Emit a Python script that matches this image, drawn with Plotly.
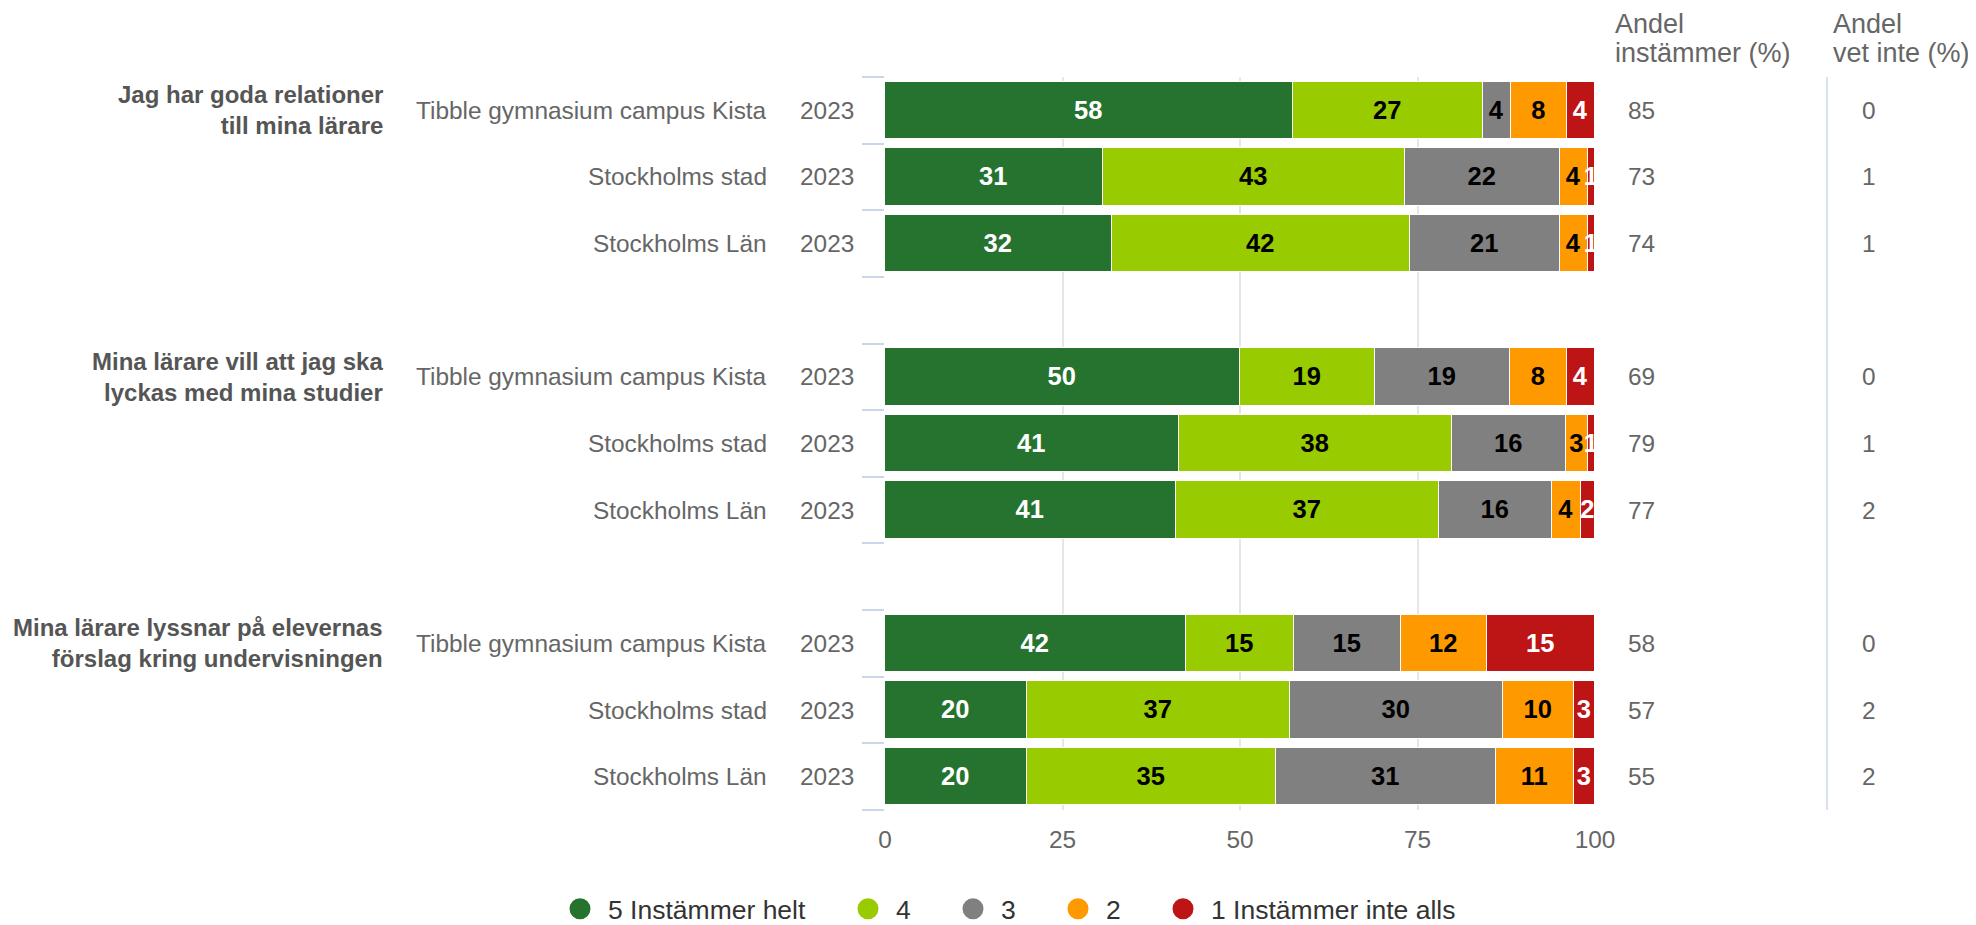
import plotly.graph_objects as go
import numpy as np

# ---------------- data ----------------
questions = [
    "Jag har goda relationer<br>till mina lärare",
    "Mina lärare vill att jag ska<br>lyckas med mina studier",
    "Mina lärare lyssnar på elevernas<br>förslag kring undervisningen",
]
units = ["Tibble gymnasium campus Kista", "Stockholms stad", "Stockholms Län"]
year = "2023"

series_names = ["5 Instämmer helt", "4", "3", "2", "1 Instämmer inte alls"]
v5 = [58, 31, 32, 50, 41, 41, 42, 20, 20]
v4 = [27, 43, 42, 19, 38, 37, 15, 37, 35]
v3 = [4, 22, 21, 19, 16, 16, 15, 30, 31]
v2 = [8, 4, 4, 8, 3, 4, 12, 10, 11]
v1 = [4, 1, 1, 4, 1, 2, 15, 3, 3]

andel_instammer = [85, 73, 74, 69, 79, 77, 58, 57, 55]
andel_vet_inte = [0, 1, 1, 0, 1, 2, 0, 2, 2]

header_instammer = ["Andel", "instämmer (%)"]
header_vet_inte = ["Andel", "vet inte (%)"]
x_ticks = [0, 25, 50, 75, 100]

# ---------------- styling ----------------
colors = ["#267330", "#99cc00", "#808080", "#ff9900", "#bd1515"]
label_colors = ["#ffffff", "#000000", "#000000", "#000000", "#ffffff"]
FONT = "Liberation Sans, Arial, sans-serif"

W, H = 1976, 925
L, R, T, B = 877, 389, 69, 123
plot_w = W - L - R
plot_h = H - T - B

# legend symbol centres (px) for each entry
legend_centres = [580, 868, 973, 1078, 1183]
legend_cy = 901

# row positions: 3 groups of 3 rows with a blank row in between
rows = [g * 4 + r for g in range(len(questions)) for r in range(len(units))]

fig = go.Figure()
all_vals = [v5, v4, v3, v2, v1]
for name, vals, col, lc in zip(series_names, all_vals, colors, label_colors):
    fig.add_trace(go.Bar(
        x=vals, y=rows, orientation="h", name=name,
        marker=dict(color=col, line=dict(color="#ffffff", width=1.5)),
        width=0.86,
        text=vals, texttemplate="%{text}",
        textposition="inside", insidetextanchor="middle", textangle=0,
        constraintext="none",
        textfont=dict(family=FONT, size=25.5, color=lc, weight="bold"),
        showlegend=False, hoverinfo="skip",
    ))

# legend entries with circle symbols, one legend box per entry
legend_layouts = {}
for k, (name, col, cx) in enumerate(zip(series_names, colors, legend_centres)):
    lname = "legend" if k == 0 else f"legend{k + 1}"
    fig.add_trace(go.Scatter(
        x=[None], y=[None], mode="markers", name=name,
        marker=dict(symbol="circle", size=16, color=col, line=dict(color=col, width=5)),
        showlegend=True, hoverinfo="skip", legend=lname,
    ))
    legend_layouts[lname] = dict(
        orientation="h", xref="paper", yref="paper",
        x=(cx - 36 - L) / plot_w, xanchor="left",
        y=-(B - (H - legend_cy)) / plot_h, yanchor="middle",
        font=dict(family=FONT, size=26.5, color="#333333"),
        itemwidth=46, itemclick=False, itemdoubleclick=False,
        bgcolor="rgba(0,0,0,0)",
    )

annotations = []
# question labels (on first row of each group)
for g, q in enumerate(questions):
    annotations.append(dict(
        x=0, xref="x", xshift=377 - L, xanchor="right",
        y=rows[g * 3], yref="y", yanchor="middle",
        text=f"<b>{q}</b>", align="right", showarrow=False,
        font=dict(family=FONT, size=24, color="#555555"),
    ))
x_right = W - R
for i, rp in enumerate(rows):
    annotations.append(dict(
        x=0, xref="x", xshift=761 - L, xanchor="right",
        y=rp, yref="y", yanchor="middle",
        text=units[i % 3], showarrow=False,
        font=dict(family=FONT, size=24.4, color="#666666"),
    ))
    annotations.append(dict(
        x=0, xref="x", xshift=848 - L, xanchor="right",
        y=rp, yref="y", yanchor="middle",
        text=year, showarrow=False,
        font=dict(family=FONT, size=24.4, color="#666666"),
    ))
    annotations.append(dict(
        x=100, xref="x", xshift=1618 - x_right, xanchor="left",
        y=rp, yref="y", yanchor="middle",
        text=str(andel_instammer[i]), showarrow=False,
        font=dict(family=FONT, size=24.4, color="#666666"),
    ))
    annotations.append(dict(
        x=100, xref="x", xshift=1852 - x_right, xanchor="left",
        y=rp, yref="y", yanchor="middle",
        text=str(andel_vet_inte[i]), showarrow=False,
        font=dict(family=FONT, size=24.4, color="#666666"),
    ))

for hx, lines in [(1606, header_instammer), (1824, header_vet_inte)]:
    for k, (line, cy) in enumerate(zip(lines, [16, 45])):
        annotations.append(dict(
            x=100, xref="x", xshift=hx - x_right, xanchor="left",
            y=1, yref="paper", yanchor="middle", yshift=T - cy,
            text=line, align="left", showarrow=False, borderpad=0,
            font=dict(family=FONT, size=27, color="#666666"),
        ))

sep_x = (1819 - L) / plot_w
shapes = [dict(type="line", xref="paper", yref="paper", x0=sep_x, x1=sep_x,
               y0=0, y1=1, line=dict(color="#ccd6eb", width=1.5))]

fig.update_layout(
    width=W, height=H,
    margin=dict(l=L, r=R, t=T, b=B, autoexpand=False),
    paper_bgcolor="#ffffff", plot_bgcolor="#ffffff",
    barmode="stack", barnorm="percent", bargap=0,
    uniformtext=dict(mode="show", minsize=24),
    font=dict(family=FONT, size=24, color="#666666"),
    xaxis=dict(range=[0, 100], tickvals=x_ticks, ticktext=[str(t) for t in x_ticks],
               showgrid=True, gridcolor="#e6e6e6", gridwidth=1.5, zeroline=False,
               showline=False, ticks="", ticklabelstandoff=13,
               tickfont=dict(family=FONT, size=24.4, color="#666666"), fixedrange=True),
    yaxis=dict(range=[10.5, -0.5], tickvals=list(np.arange(-0.5, 11, 1.0)),
               showticklabels=False, ticks="outside", ticklen=22, tickwidth=2,
               tickcolor="#ccd6eb", showgrid=False, zeroline=False, showline=False,
               fixedrange=True),
    annotations=annotations, shapes=shapes,
    showlegend=True,
    **legend_layouts,
)

fig.write_html("out.html")
